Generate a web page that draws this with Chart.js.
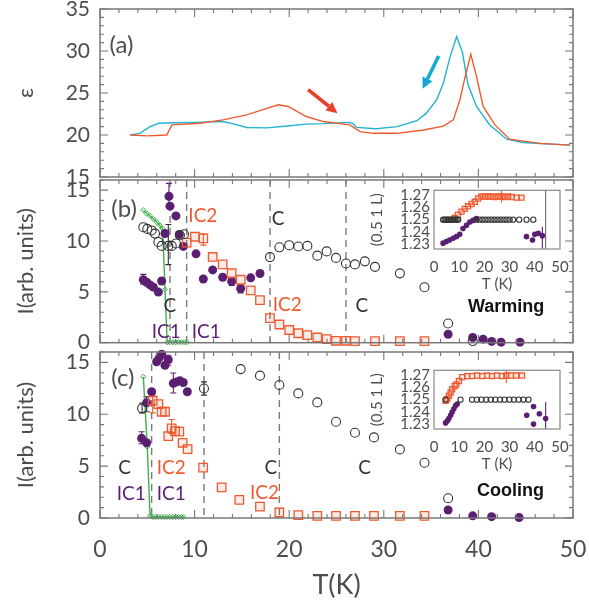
<!DOCTYPE html>
<html>
<head>
<meta charset="utf-8">
<script src="https://cdn.jsdelivr.net/npm/chart.js@4.4.1/dist/chart.umd.min.js"></script>
<style>
  html, body { margin: 0; padding: 0; background: #fff; }
  #wrap { position: relative; width: 589px; height: 602px; overflow: hidden; }
  #wrap canvas { position: absolute; }
</style>
</head>
<body>
<div id="wrap">
  <canvas id="pa" width="589" height="185" style="left:0;top:0"></canvas>
  <canvas id="pb" width="589" height="190" style="left:0;top:160px"></canvas>
  <canvas id="pc" width="589" height="272" style="left:0;top:330px"></canvas>
  <canvas id="ib" width="210" height="110" style="left:360px;top:185px"></canvas>
  <canvas id="ic" width="210" height="110" style="left:360px;top:365px"></canvas>
</div>
<script>
// colours
const ORANGE = '#ee5a30';
const PURPLE = '#5b1f72';
const GREEN = '#3db34c';
const CYAN = '#22b3d0';
const INK = '#333333';
const GREY = '#4d4d4d';
const FAM = 'Lato, "Noto Sans", "DejaVu Sans", sans-serif';

// ---- panel (a): dielectric constant
const cyanT   = [3.2, 4.2, 5.3, 6.2, 8.0, 10.0, 13.0, 14.2, 15.5, 17.6, 19.5, 21.8, 23.6, 26.2, 26.7, 27.1, 29.2, 31.4, 33.5, 34.5, 35.6, 36.3, 37.0, 37.7, 38.3, 38.9, 39.8, 41.2, 43.0, 44.7, 47.0, 49.7];
const cyanEps = [20.0, 20.2, 21.0, 21.4, 21.45, 21.5, 21.6, 21.3, 20.9, 20.85, 21.05, 21.3, 21.35, 21.5, 21.4, 20.9, 20.75, 21.0, 21.7, 22.6, 24.2, 26.2, 29.3, 31.7, 29.9, 26.0, 23.4, 21.2, 19.5, 19.1, 18.95, 18.8];
const redT    = [3.2, 5.0, 7.05, 7.6, 10.6, 13.0, 15.5, 17.3, 18.85, 19.9, 21.8, 23.6, 26.4, 27.5, 28.9, 31.4, 34.2, 36.3, 37.35, 38.05, 38.6, 39.2, 39.8, 40.5, 41.75, 43.3, 46.5, 49.7];
const redEps  = [20.0, 19.9, 20.0, 21.2, 21.4, 21.8, 22.4, 23.05, 23.6, 23.4, 22.2, 21.6, 21.2, 20.4, 20.2, 20.2, 20.6, 21.05, 21.8, 24.2, 26.95, 29.6, 26.95, 23.4, 21.2, 19.5, 19.0, 18.8];
const redArrow  = [22.0, 25.4, 25.1, 22.6];
const cyanArrow = [35.8, 29.4, 34.1, 25.5];

// ---- panel (b): warming
const bBlackT  = [4.58, 5.0, 5.46, 5.82, 6.17, 6.52, 7.22, 7.58, 8.03, 8.45, 8.88, 17.97, 18.96, 20.0, 20.96, 21.92, 22.97, 23.96, 24.95, 26.0, 26.95, 28.0, 29.07, 31.7, 34.3, 36.8, 39.4];
const bBlackI  = [11.36, 11.19, 11.04, 10.73, 9.91, 9.52, 9.52, 9.52, 9.76, 10.57, 10.66, 8.42, 9.38, 9.59, 9.46, 9.52, 8.56, 8.98, 8.34, 7.79, 7.70, 8.0, 7.46, 6.82, 5.46, 1.89, 0.16];
const bOrangeT = [9.16, 10.04, 10.92, 11.91, 12.97, 13.92, 14.87, 15.93, 16.91, 17.97, 18.96, 20.0, 20.96, 21.92, 22.97, 23.96, 24.95, 26.0, 26.95, 29.07, 31.7, 34.3];
const bOrangeI = [9.84, 10.42, 10.26, 8.43, 7.70, 6.83, 6.19, 5.14, 4.18, 2.42, 1.79, 1.25, 0.93, 0.74, 0.51, 0.35, 0.19, 0.19, 0.15, 0.15, 0.15, 0.15];
const bPurpleT = [4.58, 4.93, 5.28, 5.64, 6.17, 6.52, 6.87, 7.29, 7.4, 8.03, 8.38, 8.81, 10.15, 10.92, 11.91, 12.97, 13.92, 14.87, 15.93, 16.91, 36.8, 39.4, 40.5, 41.4, 42.4, 44.4];
const bPurpleI = [6.19, 5.94, 5.68, 5.46, 4.98, 6.07, 10.74, 14.39, 13.43, 12.47, 10.64, 9.47, 8.74, 6.26, 7.16, 6.44, 6.03, 5.33, 6.38, 6.80, 0.83, 0.51, 0.35, 0.13, 0.05, 0.05];
const bGreenT  = [4.58, 4.93, 5.28, 5.64, 5.99, 6.34, 6.63, 6.87, 7.1, 7.4, 7.7, 8.0, 8.3, 8.6, 8.9, 9.2];
const bGreenI  = [13.03, 12.71, 12.48, 12.16, 11.84, 11.52, 11.2, 5.22, 0.05, 0.05, 0.05, 0.05, 0.05, 0.05, 0.05, 0.05];
const bDashT   = [7.4, 9.16, 17.97, 26.0];
const bErrors  = [[7.29, 13.33, 15.67, PURPLE], [7.22, 7.68, 11.62, INK], [10.92, 9.6, 10.71, ORANGE],
                  [4.58, 5.76, 6.72, PURPLE], [14.87, 4.9, 5.7, PURPLE], [13.92, 5.62, 6.44, PURPLE]];

// ---- panel (c): cooling
const cBlackT  = [4.45, 10.99, 14.87, 16.91, 18.96, 20.96, 22.97, 24.95, 26.95, 28.96, 31.7, 34.3, 36.8];
const cBlackI  = [10.57, 12.48, 14.35, 13.72, 12.82, 12.01, 11.14, 9.28, 8.22, 7.77, 6.61, 5.33, 1.9];
const cOrangeT = [5.57, 6.17, 6.52, 6.87, 7.22, 7.57, 7.93, 8.38, 8.73, 9.26, 10.9, 12.86, 14.73, 16.91, 18.96, 20.96, 22.97, 24.95, 26.95, 28.96, 31.7, 34.3];
const cOrangeI = [11.3, 10.98, 10.24, 10.24, 7.89, 8.64, 8.37, 8.32, 7.25, 6.64, 4.85, 2.95, 1.74, 1.09, 0.53, 0.27, 0.2, 0.2, 0.2, 0.2, 0.2, 0.2];
const cPurpleT = [4.4, 4.93, 4.93, 5.46, 5.99, 6.27, 6.52, 6.87, 7.22, 7.75, 8.1, 8.45, 8.8, 9.23, 36.8, 39.4, 41.4, 44.3];
const cPurpleI = [7.68, 7.25, 11.11, 12.17, 15.06, 15.46, 15.78, 14.72, 15.25, 12.98, 13.12, 13.22, 13.06, 12.17, 0.77, 0.21, 0.13, 0.05];
const cGreenT  = [4.58, 5.0, 5.29, 5.6, 5.9, 6.2, 6.5, 6.8, 7.1, 7.4, 7.7, 8.0, 8.3, 8.6, 8.8];
const cGreenI  = [13.62, 6.87, 0.2, 0.1, 0.1, 0.1, 0.1, 0.1, 0.1, 0.1, 0.1, 0.1, 0.1, 0.1, 0.1];
const cDashT   = [5.46, 10.99, 18.96];
const cErrors  = [[4.4, 7.15, 8.32, PURPLE], [4.93, 10.24, 11.7, PURPLE], [7.22, 14.72, 15.68, PURPLE],
                  [7.75, 12.05, 13.97, PURPLE], [5.57, 10.13, 11.84, ORANGE], [7.57, 8.16, 9.49, ORANGE],
                  [10.99, 11.84, 13.12, INK], [4.45, 10.13, 11.09, INK]];

// ---- insets: (0.5 1 L) position
const ibBlackT  = [3.6, 4.2, 4.8, 5.4, 6.0, 6.6, 7.2, 7.8, 8.4, 9.0, 9.6, 16.8, 18.0, 19.2, 20.4, 21.6, 22.8, 24.0, 25.2, 26.4, 27.6, 28.8, 30.0, 31.4, 33.8, 36.7, 39.4];
const ibBlackL  = [1.250, 1.250, 1.250, 1.250, 1.250, 1.250, 1.250, 1.250, 1.250, 1.250, 1.250, 1.250, 1.250, 1.250, 1.250, 1.250, 1.250, 1.250, 1.250, 1.250, 1.250, 1.250, 1.250, 1.250, 1.250, 1.250, 1.250];
const ibOrangeT = [8.2, 9.5, 10.9, 12.2, 13.5, 14.9, 16.2, 17.5, 18.8, 20.2, 21.5, 22.8, 24.1, 25.5, 26.8, 28.1, 29.4, 30.8, 32.8, 34.7];
const ibOrangeL = [1.2513, 1.254, 1.2566, 1.2588, 1.2609, 1.2628, 1.2646, 1.2673, 1.2689, 1.2689, 1.2689, 1.2689, 1.2685, 1.2689, 1.2689, 1.2685, 1.2689, 1.2685, 1.268, 1.268];
const ibPurpleT = [3.6, 4.9, 6.2, 7.6, 8.9, 10.2, 11.5, 12.9, 14.2, 15.5, 16.8, 36.7, 39.1, 40.0, 41.4, 43.0];
const ibPurpleL = [1.2308, 1.2321, 1.2334, 1.2348, 1.2361, 1.238, 1.2428, 1.2454, 1.2481, 1.2494, 1.2508, 1.2361, 1.2334, 1.238, 1.2388, 1.2369];
const ibErrors  = [[43.0, 1.2262, 1.2441, PURPLE], [44.3, 1.2, 1.3, '#666'], [26.8, 1.2641, 1.2734, ORANGE]];

const icBlackT  = [4.6, 10.5, 15.1, 17.0, 18.8, 20.7, 22.5, 24.3, 26.2, 28.0, 29.9, 31.7, 33.6, 35.5, 37.5];
const icBlackL  = [1.250, 1.250, 1.250, 1.250, 1.250, 1.250, 1.250, 1.250, 1.250, 1.250, 1.250, 1.250, 1.250, 1.250, 1.250];
const icOrangeT = [4.6, 5.3, 5.9, 6.6, 7.2, 8.2, 8.9, 9.9, 11.2, 13.2, 15.1, 17.1, 19.1, 21.1, 23.0, 25.0, 27.0, 28.7, 30.5, 32.6, 34.9];
const icOrangeL = [1.249, 1.2505, 1.2532, 1.2559, 1.2585, 1.2612, 1.2625, 1.2652, 1.2684, 1.2692, 1.2692, 1.2697, 1.2692, 1.2697, 1.2692, 1.2697, 1.2692, 1.2697, 1.2697, 1.2697, 1.2697];
const icPurpleT = [4.6, 5.3, 5.9, 6.6, 7.2, 7.9, 8.6, 9.2, 36.8, 39.5, 39.5, 41.8, 44.3];
const icPurpleL = [1.231, 1.2327, 1.2346, 1.2372, 1.2399, 1.2425, 1.2452, 1.2465, 1.2372, 1.2444, 1.23, 1.2385, 1.2346];
const icErrors  = [[44.3, 1.2254, 1.2478, PURPLE], [28.7, 1.2636, 1.2748, ORANGE]];

// text annotations: [text, T, value, colour]
const aTexts = [['(a)', 1.0, 30.7, GREY]];
const bTexts = [['(b)', 1.2, 13.1, GREY], ['IC2', 9.34, 12.5, ORANGE], ['C', 18.15, 12.15, INK],
                ['C', 6.7, 3.62, INK], ['IC1', 5.46, 1.07, PURPLE], ['IC1', 9.7, 1.07, PURPLE],
                ['IC2', 18.25, 3.73, ORANGE], ['C', 27.0, 3.62, INK]];
const cTexts = [['(c)', 1.2, 13.5, GREY], ['C', 1.94, 4.79, INK], ['IC2', 6.0, 4.79, ORANGE],
                ['IC1', 1.76, 2.31, PURPLE], ['IC1', 6.0, 2.31, PURPLE], ['C', 17.4, 4.79, INK],
                ['IC2', 15.86, 2.38, ORANGE], ['C', 27.3, 4.79, INK]];

const xy = (xs, ys) => xs.map((v, i) => ({ x: v, y: ys[i] }));

function circles(xs, ys, r) {
  return { data: xy(xs, ys), pointStyle: 'circle', pointRadius: r, borderColor: INK,
           backgroundColor: 'rgba(0,0,0,0)', borderWidth: 1.1, clip: false };
}
function dots(xs, ys, r) {
  return { data: xy(xs, ys), pointStyle: 'circle', pointRadius: r, borderColor: PURPLE,
           backgroundColor: PURPLE, borderWidth: 0, clip: false };
}
function squares(xs, ys, r) {
  return { data: xy(xs, ys), pointStyle: 'rect', pointRadius: r, borderColor: ORANGE,
           backgroundColor: 'rgba(238,90,48,0.12)', borderWidth: 1.3, clip: false };
}
function greenLine(xs, ys) {
  return { data: xy(xs, ys), showLine: true, borderColor: GREEN, borderWidth: 1.4,
           pointStyle: 'rectRot', pointRadius: 2.6, pointBorderColor: GREEN,
           pointBackgroundColor: 'rgba(0,0,0,0)', pointBorderWidth: 1, clip: false };
}
function curve(xs, ys, color) {
  return { data: xy(xs, ys), showLine: true, borderColor: color, borderWidth: 1.4, pointRadius: 0 };
}

// dashed lines, error bars, frame with inward ticks, labels, arrows
function makeExtras(cfg) {
  return {
    id: 'extras',
    beforeDatasetsDraw(chart) {
      const { ctx, chartArea: a, scales: { x, y } } = chart;
      ctx.save();
      ctx.beginPath(); ctx.rect(a.left, a.top, a.width, a.height); ctx.clip();
      ctx.strokeStyle = '#7a7a7a'; ctx.lineWidth = 1.4; ctx.setLineDash([7, 5]);
      (cfg.dashes || []).forEach(t => {
        const px = x.getPixelForValue(t);
        ctx.beginPath(); ctx.moveTo(px, a.top); ctx.lineTo(px, a.bottom); ctx.stroke();
      });
      ctx.setLineDash([]);
      ctx.lineWidth = 1.1;
      (cfg.errs || []).forEach(([t, lo, hi, c]) => {
        const px = x.getPixelForValue(t), y1 = y.getPixelForValue(lo), y2 = y.getPixelForValue(hi);
        const w = cfg.capW === undefined ? 3 : cfg.capW;
        ctx.strokeStyle = c;
        ctx.beginPath();
        ctx.moveTo(px, y1); ctx.lineTo(px, y2);
        ctx.moveTo(px - w, y1); ctx.lineTo(px + w, y1);
        ctx.moveTo(px - w, y2); ctx.lineTo(px + w, y2);
        ctx.stroke();
      });
      ctx.restore();
    },
    afterDatasetsDraw(chart) {
      const { ctx, chartArea: a, scales: { x, y } } = chart;
      ctx.save();
      ctx.strokeStyle = cfg.frameColor || '#777'; ctx.lineWidth = cfg.frameWidth || 1.5;
      ctx.strokeRect(a.left, a.top, a.width, a.height);
      if (cfg.ticks) {
        const marks = (sc, step, len, horiz) => {
          const first = Math.ceil(sc.min / step - 1e-9), last = Math.floor(sc.max / step + 1e-9);
          for (let k = first; k <= last; k++) {
            const p = sc.getPixelForValue(k * step);
            if (horiz) {
              ctx.moveTo(p, a.bottom); ctx.lineTo(p, a.bottom - len);
              ctx.moveTo(p, a.top); ctx.lineTo(p, a.top + len);
            } else {
              ctx.moveTo(a.left, p); ctx.lineTo(a.left + len, p);
              ctx.moveTo(a.right, p); ctx.lineTo(a.right - len, p);
            }
          }
        };
        ctx.lineWidth = 1.1;
        ctx.beginPath();
        marks(x, cfg.ticks.x[0], 8, true); marks(x, cfg.ticks.x[1], 4, true);
        marks(y, cfg.ticks.y[0], 8, false); marks(y, cfg.ticks.y[1], 4, false);
        ctx.stroke();
      }
      ctx.textAlign = 'left'; ctx.textBaseline = 'middle';
      (cfg.texts || []).forEach(([s, t, v, c]) => {
        ctx.font = (s[0] === '(' ? '24px ' : '19px ') + FAM;
        ctx.fillStyle = c;
        ctx.fillText(s, x.getPixelForValue(t), y.getPixelForValue(v));
      });
      if (cfg.bold) {
        ctx.font = 'bold 18px "Liberation Sans", Arial, sans-serif';
        ctx.fillStyle = '#111';
        ctx.fillText(cfg.bold[0], x.getPixelForValue(cfg.bold[1]), y.getPixelForValue(cfg.bold[2]));
      }
      (cfg.arrows || []).forEach(([x1, y1, x2, y2, c]) => {
        const p1 = [x.getPixelForValue(x1), y.getPixelForValue(y1)];
        const p2 = [x.getPixelForValue(x2), y.getPixelForValue(y2)];
        const ang = Math.atan2(p2[1] - p1[1], p2[0] - p1[0]);
        const hl = 11, hw = 5.5;
        const bx = p2[0] - hl * Math.cos(ang), by = p2[1] - hl * Math.sin(ang);
        ctx.strokeStyle = c; ctx.fillStyle = c; ctx.lineWidth = 3.6;
        ctx.beginPath(); ctx.moveTo(p1[0], p1[1]); ctx.lineTo(bx, by); ctx.stroke();
        ctx.beginPath();
        ctx.moveTo(p2[0], p2[1]);
        ctx.lineTo(bx + hw * Math.sin(ang), by - hw * Math.cos(ang));
        ctx.lineTo(bx - hw * Math.sin(ang), by + hw * Math.cos(ang));
        ctx.closePath(); ctx.fill();
      });
      ctx.restore();
    }
  };
}

function noPad(s) { s.paddingTop = 0; s.paddingBottom = 0; s.paddingLeft = 0; s.paddingRight = 0; }

function mainChart(id, cfg) {
  const tickFont = { family: FAM, size: 21 };
  return new Chart(document.getElementById(id), {
    type: 'scatter',
    data: { datasets: cfg.datasets },
    options: {
      responsive: false, animation: false, events: [],
      layout: { padding: cfg.pad },
      plugins: { legend: { display: false }, tooltip: { enabled: false } },
      scales: {
        x: {
          type: 'linear', min: 0, max: 50, display: !!cfg.showX,
          grid: { display: false, drawTicks: false }, border: { display: false },
          ticks: { stepSize: 10, includeBounds: false, maxRotation: 0, padding: 18, color: GREY,
                   font: { family: FAM, size: 23 } },
          title: { display: true, text: 'T(K)', color: GREY, font: { family: FAM, size: 27, lineHeight: 1 },
                   padding: { top: 0, bottom: 3 } },
          afterFit: s => { if (cfg.showX) s.height = 84; else s.height = 0; noPad(s); }
        },
        y: {
          type: 'linear', min: cfg.yMin, max: cfg.yMax,
          grid: { display: false, drawTicks: false }, border: { display: false },
          ticks: { stepSize: 5, includeBounds: false, padding: 10, color: GREY, font: tickFont },
          title: { display: true, text: cfg.yTitle, color: GREY, font: { family: FAM, size: 22 },
                   padding: { top: 13, bottom: 0 } },
          afterFit: s => { s.width = 100; noPad(s); }
        }
      }
    },
    plugins: [makeExtras(cfg)]
  });
}

function insetChart(id, cfg) {
  const f = { family: FAM, size: 15 };
  return new Chart(document.getElementById(id), {
    type: 'scatter',
    data: { datasets: cfg.datasets },
    options: {
      responsive: false, animation: false, events: [],
      layout: { padding: { top: 4, right: 10, left: 0, bottom: 0 } },
      plugins: { legend: { display: false }, tooltip: { enabled: false } },
      scales: {
        x: {
          type: 'linear', min: 0, max: 50,
          grid: { display: false, drawTicks: false }, border: { display: false },
          ticks: { stepSize: 10, includeBounds: false, autoSkip: false, maxRotation: 0, padding: 9,
                   color: GREY, font: f },
          title: { display: true, text: 'T (K)', color: GREY, font: f, padding: { top: 0, bottom: 2 } },
          afterFit: s => { s.height = 46; noPad(s); }
        },
        y: {
          type: 'linear', min: 1.226, max: 1.274,
          grid: { display: false, drawTicks: false }, border: { display: false },
          ticks: { stepSize: 0.01, includeBounds: false, autoSkip: false, padding: 4, color: GREY, font: f,
                   callback: v => v.toFixed(2) },
          title: { display: true, text: '(0.5 1 L)', color: GREY, font: f, padding: { top: 8, bottom: 0 } },
          afterFit: s => { s.width = 74; noPad(s); }
        }
      }
    },
    plugins: [makeExtras(cfg)]
  });
}

mainChart('pa', {
  datasets: [curve(redT, redEps, ORANGE), curve(cyanT, cyanEps, CYAN)],
  pad: { top: 9, bottom: 8, left: 0, right: 16 },
  yMin: 15, yMax: 35, yTitle: 'ε',
  ticks: { x: [10, 2], y: [5, 1] },
  texts: aTexts,
  arrows: [[...redArrow, '#e8402a'], [...cyanArrow, '#16a9d0']]
});

mainChart('pb', {
  datasets: [circles(bBlackT, bBlackI, 4.5), squares(bOrangeT, bOrangeI, 6),
             dots(bPurpleT, bPurpleI, 4.5), greenLine(bGreenT, bGreenI)],
  pad: { top: 20, bottom: 3, left: 0, right: 16 },
  yMin: 0, yMax: 16, yTitle: 'I(arb. units)',
  ticks: { x: [10, 2], y: [5, 1] },
  dashes: bDashT, errs: bErrors, texts: bTexts,
  bold: ['Warming', 38.9, 3.52]
});

mainChart('pc', {
  datasets: [circles(cBlackT, cBlackI, 4.5), squares(cOrangeT, cOrangeI, 6),
             dots(cPurpleT, cPurpleI, 4.5), greenLine(cGreenT, cGreenI)],
  pad: { top: 22, bottom: 0, left: 0, right: 16 },
  showX: true,
  yMin: 0, yMax: 16, yTitle: 'I(arb. units)',
  ticks: { x: [10, 2], y: [5, 1] },
  dashes: cDashT, errs: cErrors, texts: cTexts,
  bold: ['Cooling', 39.85, 2.6]
});

insetChart('ib', {
  datasets: [circles(ibBlackT, ibBlackL, 2.6), squares(ibOrangeT, ibOrangeL, 3.6), dots(ibPurpleT, ibPurpleL, 2.8)],
  errs: ibErrors, capW: 0, frameColor: '#888', frameWidth: 1.2
});

insetChart('ic', {
  datasets: [circles(icBlackT, icBlackL, 2.6), squares(icOrangeT, icOrangeL, 3.6), dots(icPurpleT, icPurpleL, 2.8)],
  errs: icErrors, capW: 0, frameColor: '#888', frameWidth: 1.2
});
</script>
</body>
</html>
